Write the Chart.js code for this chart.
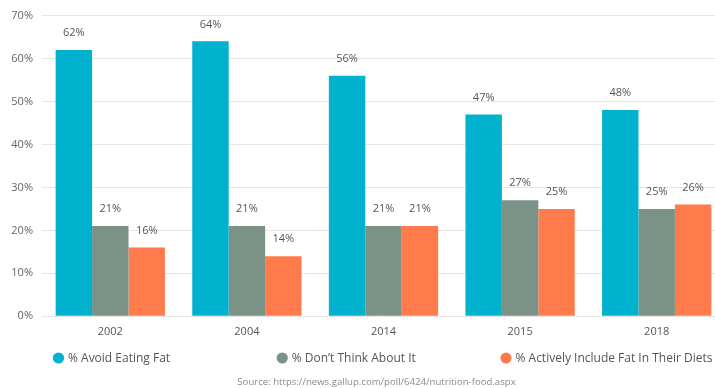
<!DOCTYPE html>
<html>
<head>
<meta charset="utf-8">
<script src="https://cdn.jsdelivr.net/npm/chart.js@4.4.1/dist/chart.umd.min.js"></script>
<style>
  html, body { margin: 0; padding: 0; background: #fff; overflow: hidden; width: 715px; height: 388px; }
  #wrap { width: 730px; height: 388px; }
</style>
</head>
<body>
<div id="wrap"><canvas id="c" width="730" height="388"></canvas></div>
<script>
const categories = ["2002", "2004", "2014", "2015", "2018"];
const seriesNames = ["% Avoid Eating Fat", "% Don\u2019t Think About It", "% Actively Include Fat In Their Diets"];
const avoidFat = [62, 64, 56, 47, 48];
const dontThink = [21, 21, 21, 27, 25];
const includeFat = [16, 14, 21, 25, 26];
const yTicks = [0, 10, 20, 30, 40, 50, 60, 70];
const sourceText = "Source: https://news.gallup.com/poll/6424/nutrition-food.aspx";

const colors = ["#00b2cd", "#7b9287", "#ff7b4c"];
const FONT = "'Open Sans', sans-serif";

const valueLabels = {
  id: "valueLabels",
  afterDatasetsDraw(chart) {
    const ctx = chart.ctx;
    ctx.save();
    ctx.font = "11px " + FONT;
    ctx.fillStyle = "#555";
    ctx.textAlign = "center";
    ctx.textBaseline = "middle";
    chart.data.datasets.forEach((ds, i) => {
      const meta = chart.getDatasetMeta(i);
      meta.data.forEach((bar, j) => {
        ctx.fillText(ds.data[j] + "%", bar.x, bar.y - 17);
      });
    });
    ctx.restore();
  }
};

const customLegend = {
  id: "customLegend",
  afterLayout(chart) {
    const tb = chart.titleBlock;
    if (tb) { tb.left += 10; tb.right += 10; }
  },
  afterDraw(chart) {
    const ctx = chart.ctx;
    const area = chart.chartArea;
    const col = 223.75;
    const y = 358;
    ctx.save();
    ctx.font = "12px " + FONT;
    ctx.textBaseline = "middle";
    ctx.textAlign = "left";
    chart.data.datasets.forEach((ds, i) => {
      const cx = area.left + 16.5 + i * col;
      ctx.beginPath();
      ctx.arc(cx, y, 5.6, 0, Math.PI * 2);
      ctx.fillStyle = ds.backgroundColor;
      ctx.fill();
      ctx.fillStyle = "#555";
      ctx.fillText(ds.label, cx + 9.5, y + 0.5);
    });
    ctx.restore();
  }
};

new Chart(document.getElementById("c"), {
  type: "bar",
  data: {
    labels: categories,
    datasets: [
      { label: seriesNames[0], data: avoidFat, backgroundColor: colors[0] },
      { label: seriesNames[1], data: dontThink, backgroundColor: colors[1] },
      { label: seriesNames[2], data: includeFat, backgroundColor: colors[2] }
    ]
  },
  options: {
    responsive: false,
    animation: false,
    layout: { padding: { top: 15, left: 8, right: 5, bottom: 0 } },
    datasets: { bar: { categoryPercentage: 0.8, barPercentage: 1.0, borderWidth: 0 } },
    plugins: {
      legend: { display: false },
      tooltip: { enabled: false },
      title: {
        display: true,
        position: "bottom",
        text: sourceText,
        color: "#8a8a8a",
        font: { family: FONT, size: 9.6, weight: "normal" },
        padding: { top: 29, bottom: 0 }
      }
    },
    scales: {
      x: {
        grid: { display: false, drawTicks: false },
        border: { display: false },
        ticks: { color: "#555", font: { family: FONT, size: 11 }, padding: 9 }
      },
      y: {
        min: 0,
        max: 70,
        afterFit(scale) { scale.width = 34; },
        afterBuildTicks(scale) { scale.ticks = yTicks.map(v => ({ value: v })); },
        grid: { color: "#e6e6e6", drawTicks: false, lineWidth: 1 },
        border: { display: false },
        ticks: {
          color: "#666",
          font: { family: FONT, size: 11 },
          padding: 9,
          callback: v => v + "%"
        }
      }
    }
  },
  plugins: [valueLabels, customLegend]
});
</script>
</body>
</html>
